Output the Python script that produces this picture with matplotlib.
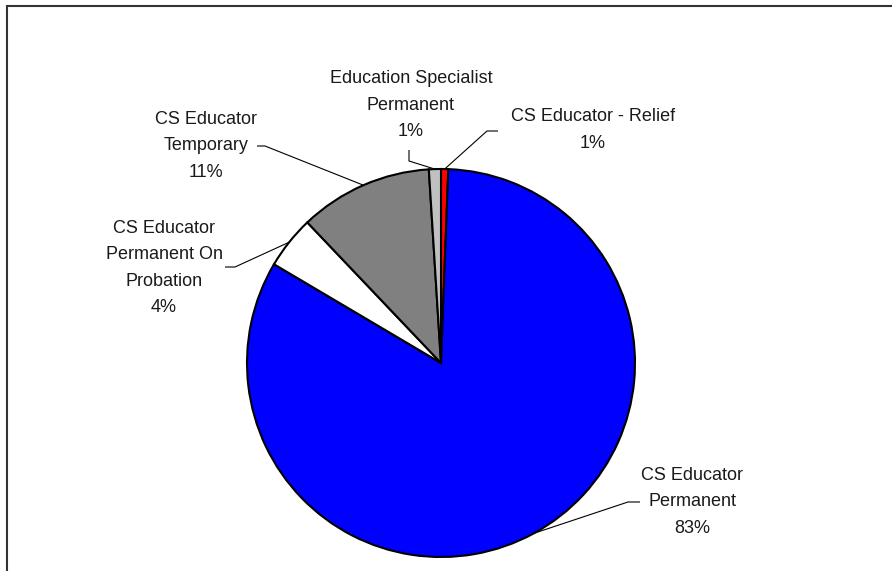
import numpy as np
import matplotlib
matplotlib.use("Agg")
import matplotlib.pyplot as plt
from matplotlib.patches import Rectangle

# staff categories, in the order the slices are drawn (clockwise from 12 o'clock)
categories = ["CS Educator - Relief", "CS Educator\nPermanent",
              "CS Educator\nPermanent On\nProbation", "CS Educator\nTemporary",
              "Education Specialist\nPermanent"]
shares = [0.6, 82.9, 4.4, 11.1, 1.0]
colors = ["#FF0000", "#0000FF", "#FFFFFF", "#808080", "#C0C0C0"]

# label block centres and leader elbows (pixel space, y measured from bottom)
label_pos = [(593, 441), (692, 69), (164, 303), (206, 425), (411, 466)]
elbow_pos = [[(498, 440), (487, 440)],
             [(640, 69), (628, 69)],
             [(225, 304), (235, 304)],
             [(257, 425), (265, 425)],
             [(409, 421), (409, 410)]]

W, H = 892, 571
plt.rcParams["font.family"] = ["Liberation Sans Narrow", "Liberation Sans", "DejaVu Sans"]

fig = plt.figure(figsize=(W / 100, H / 100), dpi=100)
ax = fig.add_axes([0, 0, 1, 1])

cx, cy, r = 441, 208, 194
wedges, _ = ax.pie(shares, colors=colors, startangle=90, counterclock=False,
                   center=(cx, cy), radius=r, frame=True,
                   wedgeprops=dict(edgecolor="black", linewidth=1.5))
ax.set_xlim(0, W)
ax.set_ylim(0, H)
ax.set_aspect("equal")
ax.axis("off")

total = sum(shares)
for w, cat, v, (tx, ty), elbow in zip(wedges, categories, shares, label_pos, elbow_pos):
    mid = np.deg2rad((w.theta1 + w.theta2) / 2)
    ex, ey = cx + r * np.cos(mid), cy + r * np.sin(mid)
    xs = [p[0] for p in elbow] + [ex]
    ys = [p[1] for p in elbow] + [ey]
    ax.plot(xs, ys, color="black", linewidth=0.8, solid_capstyle="butt")
    ax.text(tx, ty, f"{cat}\n{v / total * 100:.0f}%", ha="center", va="center",
            fontsize=13, color="#1a1a1a", linespacing=1.7)

# chart area border
ax.add_patch(Rectangle((7, -20), W, H - 6 + 20, fill=False,
                       edgecolor="#333333", linewidth=1.5))

fig.savefig("out.png", dpi=100)
